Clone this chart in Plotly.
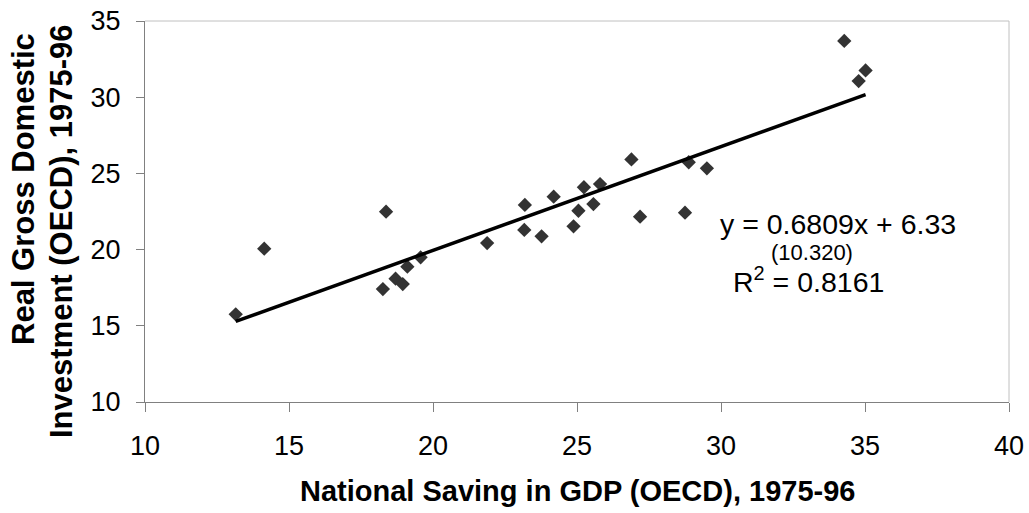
import plotly.graph_objects as go

# Data
saving = [13.15, 14.14, 18.37, 18.26, 18.70, 18.95, 19.11, 19.57, 21.88, 23.19,
          23.17, 23.77, 24.19, 24.88, 25.05, 25.24, 25.57, 25.80, 26.89, 27.19,
          28.75, 28.88, 29.51, 34.28, 34.78, 35.02]
investment = [15.75, 20.06, 22.49, 17.41, 18.09, 17.74, 18.88, 19.49, 20.43, 22.93,
              21.29, 20.87, 23.47, 21.53, 22.55, 24.09, 22.99, 24.30, 25.92, 22.16,
              22.42, 25.73, 25.33, 33.69, 31.06, 31.76]
slope = 0.6809
intercept = 6.33
x_ticks = [10, 15, 20, 25, 30, 35, 40]
y_ticks = [10, 15, 20, 25, 30, 35]

W, H = 1029, 513
L, R, T, B = 145, 1009, 21, 402
pw, ph = R - L, B - T

def px(x):
    return (x - L) / pw

def py(y):
    return (B - y) / ph

fig = go.Figure()

fig.add_trace(go.Scatter(
    x=saving, y=investment, mode="markers",
    marker=dict(symbol="diamond", size=11, color="#333333", line=dict(width=0)),
    showlegend=False, hoverinfo="x+y"))

xmin, xmax = min(saving), max(saving)
fig.add_trace(go.Scatter(
    x=[xmin, xmax], y=[slope * xmin + intercept, slope * xmax + intercept],
    mode="lines", line=dict(color="black", width=3.5),
    showlegend=False, hoverinfo="skip"))

fig.update_layout(
    width=W, height=H,
    margin=dict(l=L, r=W - R, t=T, b=H - B, autoexpand=False),
    paper_bgcolor="white", plot_bgcolor="white",
    font=dict(family="Liberation Sans, Arial, sans-serif", color="black"),
)

fig.update_xaxes(
    range=[10, 40], tickvals=x_ticks, ticktext=[str(v) for v in x_ticks],
    showgrid=False, zeroline=False, showline=True, linecolor="#808080", linewidth=1,
    ticks="outside", ticklen=9, tickcolor="#808080", tickwidth=1,
    tickfont=dict(size=27, color="black"), ticklabelstandoff=11, automargin=False,
)
fig.update_yaxes(
    range=[10, 35], tickvals=y_ticks, ticktext=[str(v) for v in y_ticks],
    showgrid=False, zeroline=False, showline=True, linecolor="#808080", linewidth=1,
    ticks="outside", ticklen=8, tickcolor="#808080", tickwidth=1,
    tickfont=dict(size=27, color="black"), ticklabelstandoff=10, automargin=False,
)

# top and right light border
fig.add_shape(type="line", xref="paper", yref="paper", x0=0, x1=1, y0=1, y1=1,
              line=dict(color="#c0c0c0", width=1))
fig.add_shape(type="line", xref="paper", yref="paper", x0=1, x1=1, y0=0, y1=1,
              line=dict(color="#c0c0c0", width=1))

bold = "Liberation Sans, Arial, sans-serif"
annots = [
    dict(text="<b>National Saving in GDP (OECD), 1975-96</b>", x=0.5, y=py(491),
         font=dict(size=29, family=bold), textangle=0),
    dict(text="<b>Real Gross Domestic</b>", x=px(23), y=py(189),
         font=dict(size=31, family=bold), textangle=-90),
    dict(text="<b>Investment (OECD), 1975-96</b>", x=px(61), y=py(232),
         font=dict(size=31, family=bold), textangle=-90),
    dict(text="y = 0.6809x + 6.33", x=px(838), y=py(224),
         font=dict(size=28.5), textangle=0),
    dict(text="(10.320)", x=px(812), y=py(252),
         font=dict(size=22), textangle=0),
    dict(text="R<sup>2</sup> = 0.8161", x=px(808), y=py(280),
         font=dict(size=28.5), textangle=0),
]
for a in annots:
    fig.add_annotation(xref="paper", yref="paper", showarrow=False,
                       xanchor="center", yanchor="middle", **a)

fig.write_html("out.html")
